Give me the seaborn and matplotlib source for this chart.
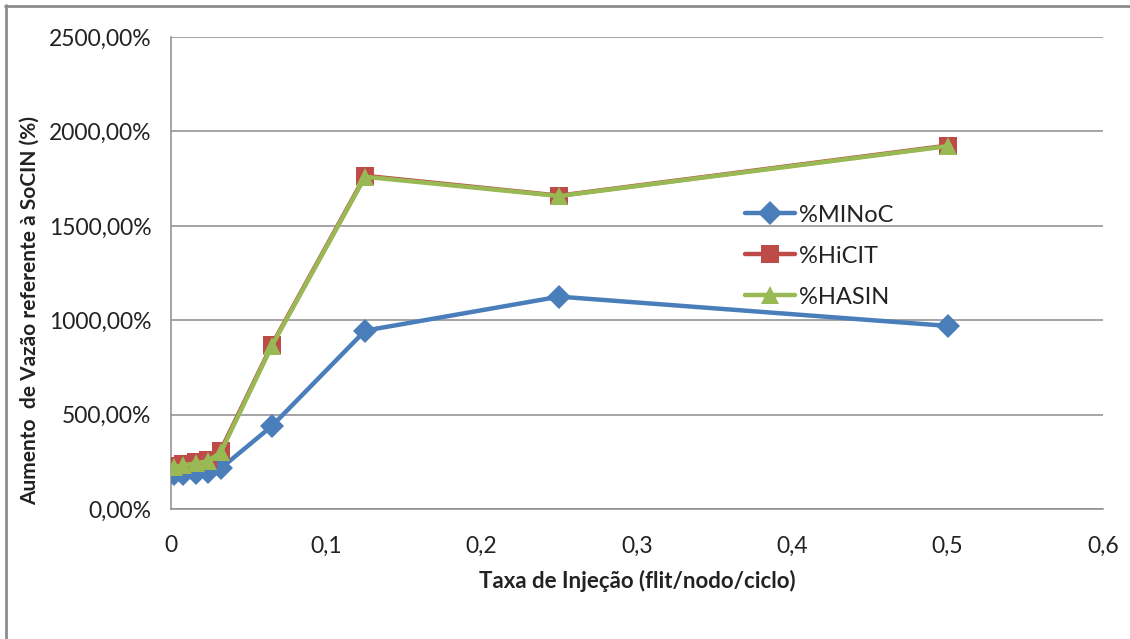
import matplotlib
matplotlib.use("Agg")
import matplotlib.pyplot as plt
from matplotlib.ticker import FuncFormatter, MultipleLocator
from matplotlib.lines import Line2D
import seaborn as sns
import pandas as pd

# Injection rates (flit/node/cycle)
taxa = [0.002, 0.008, 0.016, 0.024, 0.032, 0.065, 0.125, 0.25, 0.5]

# Throughput increase relative to SoCIN (%)
minoc = [185, 185, 190, 195, 215, 440, 945, 1125, 970]
hicit = [228, 240, 250, 262, 310, 870, 1765, 1660, 1925]
hasin = [220, 232, 242, 255, 300, 865, 1760, 1658, 1922]

series = ["%MINoC", "%HiCIT", "%HASIN"]
colors = {"%MINoC": "#4A7EBB", "%HiCIT": "#BE4B48", "%HASIN": "#98B954"}
markers = {"%MINoC": "D", "%HiCIT": "s", "%HASIN": "^"}

df = pd.concat([
    pd.DataFrame({"taxa": taxa, "valor": v, "serie": s})
    for s, v in zip(series, [minoc, hicit, hasin])
], ignore_index=True)

sns.set_style("white")
plt.rcParams["font.family"] = ["Lato", "DejaVu Sans"]

fig = plt.figure(figsize=(11.3, 6.39), dpi=100)
ax = fig.add_axes([0.1513, 0.2034, 0.8248, 0.7386])

sizes = {"%MINoC": 12, "%HiCIT": 13, "%HASIN": 13}
for s in series:
    sns.lineplot(data=df[df.serie == s], x="taxa", y="valor", ax=ax,
                 color=colors[s], marker=markers[s], markersize=sizes[s],
                 markeredgewidth=0, linewidth=3.2, label=s, zorder=3)

ax.set_xlim(0, 0.6)
ax.set_ylim(0, 2500)
ax.xaxis.set_major_locator(MultipleLocator(0.1))
ax.yaxis.set_major_locator(MultipleLocator(500))
ax.xaxis.set_major_formatter(FuncFormatter(
    lambda v, p: "0" if abs(v) < 1e-9 else f"{v:.1f}".replace(".", ",")))
ax.yaxis.set_major_formatter(FuncFormatter(
    lambda v, p: f"{v:.2f}".replace(".", ",") + "%"))

ax.grid(axis="y", color="#8C8C8C", linewidth=1.1)
ax.grid(axis="x", visible=False)
for side in ["top", "right"]:
    ax.spines[side].set_visible(False)
for side in ["left", "bottom"]:
    ax.spines[side].set_color("#8C8C8C")
    ax.spines[side].set_linewidth(1.1)

ax.tick_params(axis="both", which="major", direction="out", length=6,
               width=1.1, color="#8C8C8C", labelsize=16.5, labelcolor="#222222")
ax.tick_params(axis="x", pad=13)
ax.tick_params(axis="y", pad=8)

ax.set_xlabel("Taxa de Injeção (flit/nodo/ciclo)", fontsize=16,
              fontweight="bold", labelpad=10, color="#222222")
ax.set_ylabel("Aumento  de Vazão referente à SoCIN (%)", fontsize=15,
              fontweight="bold", labelpad=12, color="#222222")
ax.yaxis.set_label_coords(-0.141, 0.42)

leg = ax.legend(loc="upper left", bbox_to_anchor=(0.616, 0.645), frameon=False,
                fontsize=17, handlelength=2.1, labelspacing=0.85,
                handletextpad=0.2, borderaxespad=0, borderpad=0)
for t in leg.get_texts():
    t.set_color("#222222")

# Outer chart frame (top and left edges)
fig.add_artist(Line2D([5 / 1130, 1], [1 - 6 / 639, 1 - 6 / 639],
                      transform=fig.transFigure, color="#8C8C8C", linewidth=2))
fig.add_artist(Line2D([6 / 1130, 6 / 1130], [0, 1 - 5 / 639],
                      transform=fig.transFigure, color="#8C8C8C", linewidth=2))

fig.savefig("out.png", dpi=100)
